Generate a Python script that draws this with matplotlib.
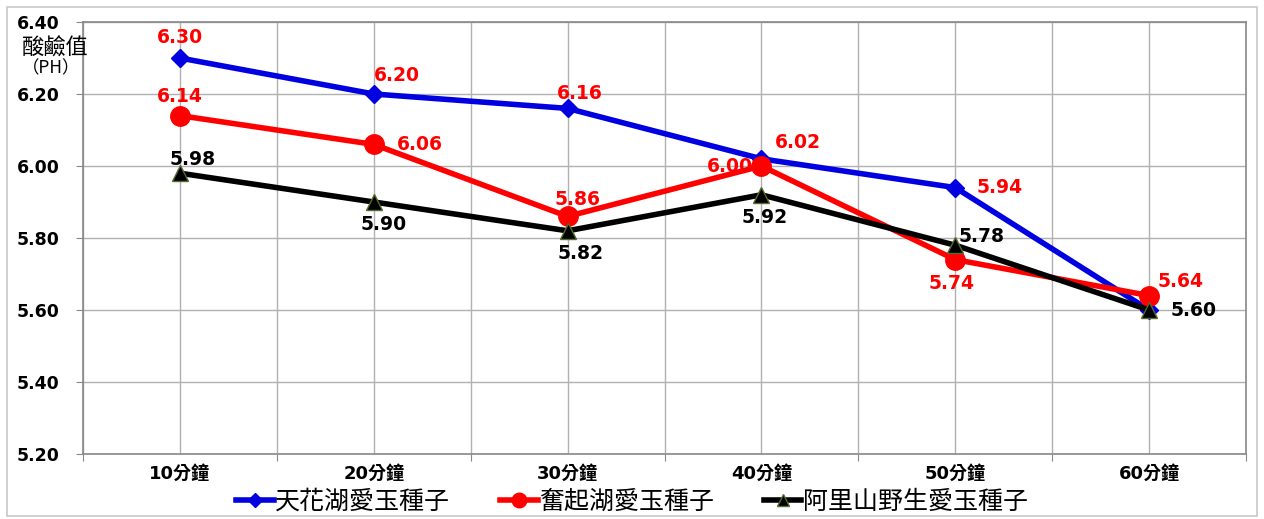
import matplotlib
matplotlib.use("Agg")
import matplotlib.pyplot as plt
from matplotlib.patches import Rectangle

plt.rcParams['font.family'] = ['DejaVu Sans', 'Noto Sans CJK TC']

times = ['10分鐘', '20分鐘', '30分鐘', '40分鐘', '50分鐘', '60分鐘']
tianhua = [6.30, 6.20, 6.16, 6.02, 5.94, 5.60]
fenqi = [6.14, 6.06, 5.86, 6.00, 5.74, 5.64]
alishan = [5.98, 5.90, 5.82, 5.92, 5.78, 5.60]
series_names = ['天花湖愛玉種子', '奮起湖愛玉種子', '阿里山野生愛玉種子']

# label offsets (points) for each value
off_blue = [(0, 15), (17, 13), (9, 11), (26, 12), (32, 0), None]
off_red = [(0, 14), (33, 0), (7, 12), (-23, 0), (-3, -17), (23, 10)]
off_black = [(9, 10), (7, -16), (9, -16), (2, -16), (19, 6), (32, 0)]

fig = plt.figure(figsize=(12.64, 5.19), dpi=100)
fig.patches.append(Rectangle((7 / 1264, 3 / 519), 1250 / 1264, 509 / 519,
                             transform=fig.transFigure, fill=False,
                             edgecolor='#c8c8c8', lw=1.2))
ax = fig.add_axes([83 / 1264, 65 / 519, 1163 / 1264, 432 / 519])

x = [i + 0.5 for i in range(len(times))]

ax.plot(x, tianhua, color='#0000e0', lw=4, marker='D', ms=9, zorder=3,
        label=series_names[0])
ax.plot(x, fenqi, color='#ff0000', lw=4, marker='o', ms=14, zorder=4,
        label=series_names[1])
ax.plot(x, alishan, color='black', lw=4, marker='^', ms=12,
        markerfacecolor='black', markeredgecolor='#556b2f', zorder=5,
        label=series_names[2])

for vals, offs, col in [(tianhua, off_blue, '#ff0000'),
                        (fenqi, off_red, '#ff0000'),
                        (alishan, off_black, 'black')]:
    for xi, v, o in zip(x, vals, offs):
        if o is None:
            continue
        ax.annotate(f'{v:.2f}', (xi, v), xytext=o, textcoords='offset points',
                    ha='center', va='center', fontsize=13.5, fontweight='bold',
                    color=col, zorder=6)

ax.set_xlim(0, 6)
ax.set_ylim(5.2, 6.4)
ax.set_yticks([5.2 + 0.2 * i for i in range(7)])
ax.set_yticklabels([f'{5.2 + 0.2 * i:.2f}' for i in range(7)],
                   fontsize=12.5, fontweight='bold')
ax.set_xticks(range(7))
ax.set_xticklabels([])
ax.set_xticks(x, minor=True)
ax.set_xticklabels(times, minor=True, fontsize=13, fontweight='bold',
                   family=['DejaVu Sans', 'Noto Sans CJK TC'])
ax.tick_params(axis='x', which='minor', length=0, pad=8)
ax.tick_params(axis='x', which='major', length=5, color='#888888')
ax.tick_params(axis='y', length=5, color='#888888', pad=12)

ax.grid(True, which='both', color='#b0b0b0', lw=1)
ax.set_axisbelow(True)
for s in ax.spines.values():
    s.set_color('#888888')
    s.set_linewidth(1.2)

fig.text(22 / 1264, 1 - 48 / 519, '酸鹼值', fontsize=16,
         family=['Noto Sans CJK TC'], va='center')
fig.text(22 / 1264, 1 - 68 / 519, '（PH）', fontsize=12.5,
         family=['Noto Sans CJK TC'], va='center')

fig.legend(loc='center', bbox_to_anchor=(0.5, 1 - 502 / 519), ncol=3,
           frameon=False, prop={'family': 'Noto Sans CJK TC', 'size': 18},
           handlelength=1.5, handletextpad=0.05, columnspacing=2.0,
           markerscale=0.75)

fig.savefig('out.png', dpi=100)
